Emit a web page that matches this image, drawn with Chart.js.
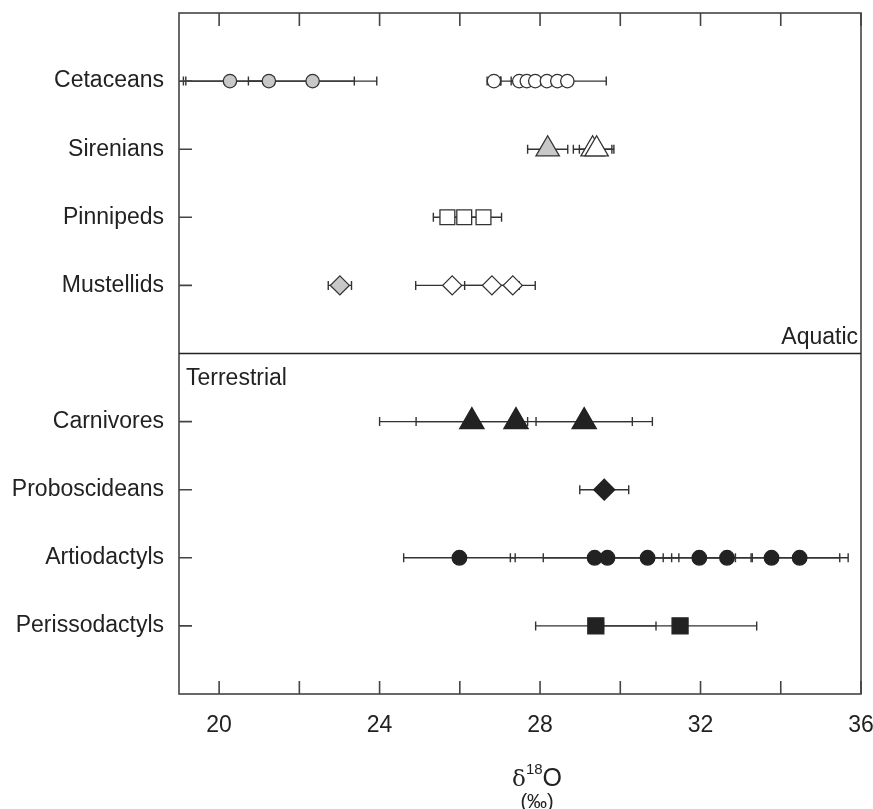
<!DOCTYPE html>
<html>
<head>
<meta charset="utf-8">
<script src="https://cdn.jsdelivr.net/npm/chart.js@4/dist/chart.umd.min.js"></script>
<style>
  html, body { margin: 0; padding: 0; background: #fff; }
  #wrap { width: 873px; height: 809px; }
</style>
</head>
<body>
<div id="wrap"><canvas id="isoChart" width="873" height="809"></canvas></div>
<script>
// rows on the y axis (position 5 is the aquatic / terrestrial divider)
const rowNames = ['Cetaceans', 'Sirenians', 'Pinnipeds', 'Mustellids', 'Carnivores', 'Proboscideans', 'Artiodactyls', 'Perissodactyls'];
const rowPos = [1, 2, 3, 4, 6, 7, 8, 9];
const xTicks = [20, 22, 24, 26, 28, 30, 32, 34, 36];

// d18O means and their +/- errors
const cetaceansGrey = [20.27, 21.24, 22.33];
const cetaceansGreyErr = [1.1, 2.13, 1.6];
const cetaceansWhite = [26.85, 27.48, 27.67, 27.88, 28.17, 28.43, 28.68];
const cetaceansWhiteErr = [0.17, 0.2, 0.2, 0.86, 0.26, 0.25, 0.97];
const sireniansGrey = [28.19];
const sireniansGreyErr = [0.5];
const sireniansWhite = [29.31, 29.41];
const sireniansWhiteErr = [0.48, 0.43];
const pinnipedsWhite = [25.69, 26.11, 26.59];
const pinnipedsWhiteErr = [0.35, 0.5, 0.45];
const mustellidsGrey = [23.01];
const mustellidsGreyErr = [0.29];
const mustellidsWhite = [25.81, 26.80, 27.32];
const mustellidsWhiteErr = [0.91, 0.68, 0.56];
const carnivores = [26.30, 27.40, 29.10];
const carnivoresErr = [1.39, 3.4, 1.2];
const proboscideans = [29.60];
const proboscideansErr = [0.61];
const artiodactyls = [25.99, 29.36, 29.68, 30.68, 31.97, 32.66, 33.77, 34.47];
const artiodactylsErr = [1.39, 2.1, 1.6, 1.3, 0.9, 0.63, 1.7, 1.21];
const perissodactyls = [29.39, 31.49];
const perissodactylsErr = [1.5, 1.91];

const GREY = '#c8c8c8', WHITE = '#ffffff', BLACK = '#222222', EDGE = '#333333';

function series(values, errs, row, style, radius, fill) {
    return {
        data: values.map(v => ({ x: v, y: row })),
        errs: errs,
        pointStyle: style,
        pointRadius: radius,
        backgroundColor: fill,
        borderColor: fill === BLACK ? BLACK : EDGE,
        borderWidth: 1.3,
        showLine: false
    };
}

const datasets = [
    series(cetaceansGrey, cetaceansGreyErr, 1, 'circle', 6.7, GREY),
    series(cetaceansWhite, cetaceansWhiteErr, 1, 'circle', 6.7, WHITE),
    series(sireniansGrey, sireniansGreyErr, 2, 'triangle', 13.5, GREY),
    series(sireniansWhite, sireniansWhiteErr, 2, 'triangle', 13.5, WHITE),
    series(pinnipedsWhite, pinnipedsWhiteErr, 3, 'rect', 10.5, WHITE),
    series(mustellidsGrey, mustellidsGreyErr, 4, 'rectRot', 9.5, GREY),
    series(mustellidsWhite, mustellidsWhiteErr, 4, 'rectRot', 9.5, WHITE),
    series(carnivores, carnivoresErr, 6, 'triangle', 14, BLACK),
    series(proboscideans, proboscideansErr, 7, 'rectRot', 10.5, BLACK),
    series(artiodactyls, artiodactylsErr, 8, 'circle', 7.3, BLACK),
    series(perissodactyls, perissodactylsErr, 9, 'rect', 11.3, BLACK)
];

// horizontal error bars with end caps, under the markers
const errorBars = {
    id: 'errorBars',
    beforeDatasetsDraw(chart) {
        const ctx = chart.ctx, xs = chart.scales.x, ys = chart.scales.y;
        ctx.save();
        ctx.strokeStyle = EDGE;
        ctx.lineWidth = 1.4;
        chart.data.datasets.forEach(ds => {
            ds.data.forEach((p, i) => {
                const e = ds.errs[i];
                const x1 = xs.getPixelForValue(p.x - e);
                const x2 = xs.getPixelForValue(p.x + e);
                const y = ys.getPixelForValue(p.y);
                ctx.beginPath();
                ctx.moveTo(x1, y); ctx.lineTo(x2, y);
                ctx.moveTo(x1, y - 4.5); ctx.lineTo(x1, y + 4.5);
                ctx.moveTo(x2, y - 4.5); ctx.lineTo(x2, y + 4.5);
                ctx.stroke();
            });
        });
        ctx.restore();
    }
};

// frame, inward ticks, divider, panel labels and axis title
const frame = {
    id: 'frame',
    afterDraw(chart) {
        const ctx = chart.ctx, a = chart.chartArea, xs = chart.scales.x, ys = chart.scales.y;
        ctx.save();
        ctx.strokeStyle = '#444';
        ctx.lineWidth = 1.6;
        ctx.strokeRect(a.left, a.top, a.right - a.left, a.bottom - a.top);
        ctx.beginPath();
        xTicks.forEach(v => {
            const x = xs.getPixelForValue(v);
            ctx.moveTo(x, a.bottom); ctx.lineTo(x, a.bottom - 13);
            ctx.moveTo(x, a.top); ctx.lineTo(x, a.top + 13);
        });
        rowPos.forEach(v => {
            const y = ys.getPixelForValue(v);
            ctx.moveTo(a.left, y); ctx.lineTo(a.left + 13, y);
        });
        ctx.stroke();

        const yd = ys.getPixelForValue(5);
        ctx.strokeStyle = '#222';
        ctx.beginPath();
        ctx.moveTo(a.left, yd); ctx.lineTo(a.right, yd);
        ctx.stroke();

        ctx.fillStyle = '#222';
        ctx.font = '23px "Liberation Sans", Arial, sans-serif';
        ctx.textBaseline = 'middle';
        ctx.textAlign = 'right';
        ctx.fillText('Aquatic', a.right - 3, yd - 16);
        ctx.textAlign = 'left';
        ctx.fillText('Terrestrial', a.left + 7, yd + 25);

        // δ18O (‰)
        const cx = xs.getPixelForValue(28) - 3;
        ctx.textBaseline = 'alphabetic';
        ctx.font = '23px "DejaVu Serif", serif';
        const wd = ctx.measureText('δ').width;
        ctx.font = '15px "Liberation Sans", Arial, sans-serif';
        const ws = ctx.measureText('18').width;
        ctx.font = '25px "Liberation Sans", Arial, sans-serif';
        const wo = ctx.measureText('O').width;
        let tx = cx - (wd + ws + wo) / 2;
        const base = 786;
        ctx.textAlign = 'left';
        ctx.font = '23px "DejaVu Serif", serif';
        ctx.fillText('δ', tx, base); tx += wd;
        ctx.font = '15px "Liberation Sans", Arial, sans-serif';
        ctx.fillText('18', tx, base - 12); tx += ws;
        ctx.font = '25px "Liberation Sans", Arial, sans-serif';
        ctx.fillText('O', tx, base);
        ctx.font = '20px "Liberation Sans", Arial, sans-serif';
        ctx.textAlign = 'center';
        ctx.fillText('(‰)', cx, 808);
        ctx.restore();
    }
};

Chart.defaults.font.family = '"Liberation Sans", Arial, sans-serif';
Chart.defaults.font.size = 23;
Chart.defaults.color = '#222';

const ctxIso = document.getElementById('isoChart').getContext('2d');
const isoChart = new Chart(ctxIso, {
    type: 'scatter',
    data: { datasets: datasets },
    options: {
        responsive: false,
        animation: false,
        events: [],
        layout: { autoPadding: false, padding: { top: 13, right: 12, left: 0, bottom: 0 } },
        plugins: { legend: { display: false }, tooltip: { enabled: false } },
        scales: {
            x: {
                type: 'linear',
                min: 19,
                max: 36,
                grid: { display: false, drawTicks: false },
                border: { display: false },
                afterBuildTicks: s => { s.ticks = xTicks.map(v => ({ value: v })); },
                afterFit: s => { s.height = 115; s.paddingLeft = 0; s.paddingRight = 0; },
                ticks: {
                    autoSkip: false,
                    maxRotation: 0,
                    padding: 18,
                    callback: v => (v % 4 === 0 ? String(v) : '')
                }
            },
            y: {
                type: 'linear',
                reverse: true,
                min: 0,
                max: 10,
                grid: { display: false, drawTicks: false },
                border: { display: false },
                afterBuildTicks: s => { s.ticks = rowPos.map(v => ({ value: v })); },
                afterFit: s => { s.width = 179; s.paddingTop = 0; s.paddingBottom = 0; },
                ticks: {
                    autoSkip: false,
                    padding: 15,
                    callback: v => rowNames[rowPos.indexOf(v)]
                }
            }
        }
    },
    plugins: [errorBars, frame]
});
</script>
</body>
</html>
